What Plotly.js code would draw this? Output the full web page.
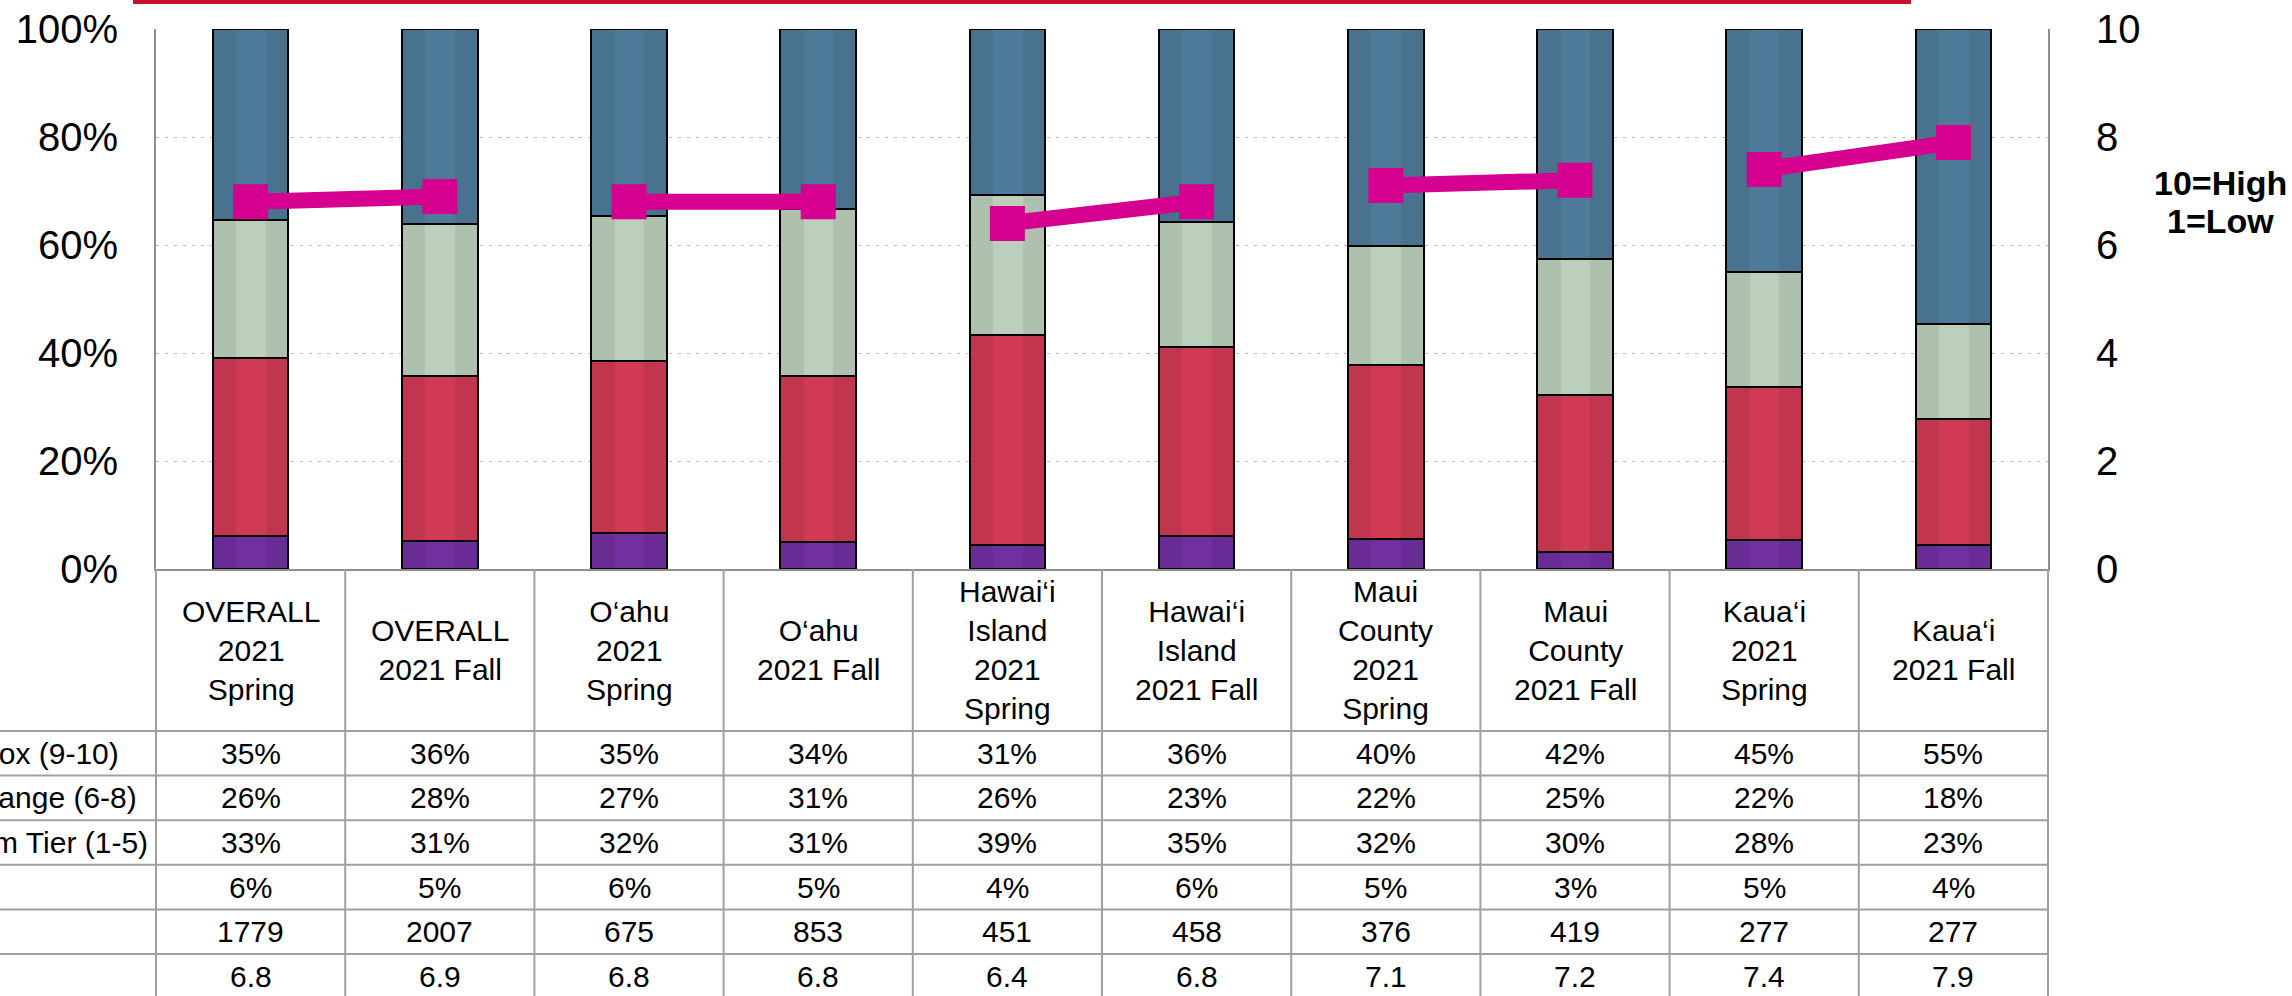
<!DOCTYPE html>
<html>
<head>
<meta charset="utf-8">
<script src="https://cdn.plot.ly/plotly-3.0.1.min.js"></script>
<style>
  html, body { margin: 0; padding: 0; background: #ffffff; overflow: hidden; }
  #chart { width: 2292px; height: 996px; }
</style>
</head>
<body>
<div id="chart"></div>
<script>
// ---------------- DATA ----------------
const categories = [
  "OVERALL 2021 Spring", "OVERALL 2021 Fall",
  "O‘ahu 2021 Spring", "O‘ahu 2021 Fall",
  "Hawai‘i Island 2021 Spring", "Hawai‘i Island 2021 Fall",
  "Maui County 2021 Spring", "Maui County 2021 Fall",
  "Kaua‘i 2021 Spring", "Kaua‘i 2021 Fall"
];
const categoryLabels = [
  "OVERALL<br>2021<br>Spring", "OVERALL<br>2021 Fall",
  "O‘ahu<br>2021<br>Spring", "O‘ahu<br>2021 Fall",
  "Hawai‘i<br>Island<br>2021<br>Spring", "Hawai‘i<br>Island<br>2021 Fall",
  "Maui<br>County<br>2021<br>Spring", "Maui<br>County<br>2021 Fall",
  "Kaua‘i<br>2021<br>Spring", "Kaua‘i<br>2021 Fall"
];
// table values (as printed)
const topBox     = [35, 36, 35, 34, 31, 36, 40, 42, 45, 55];
const midRange   = [26, 28, 27, 31, 26, 23, 22, 25, 22, 18];
const bottomTier = [33, 31, 32, 31, 39, 35, 32, 30, 28, 23];
const dontKnow   = [6, 5, 6, 5, 4, 6, 5, 3, 5, 4];
const nCounts    = [1779, 2007, 675, 853, 451, 458, 376, 419, 277, 277];
const means      = [6.8, 6.9, 6.8, 6.8, 6.4, 6.8, 7.1, 7.2, 7.4, 7.9];
// bar segments (unrounded)
const barDontKnow = [6.2, 5.1, 6.6, 5.0, 4.5, 6.2, 5.6, 3.1, 5.4, 4.5];
const barBottom   = [32.9, 30.7, 32.0, 30.8, 38.9, 35.0, 32.1, 29.2, 28.3, 23.3];
const barMid      = [25.6, 28.1, 26.7, 30.8, 25.9, 23.0, 22.1, 25.1, 21.3, 17.5];
const barTop      = [35.3, 36.1, 34.7, 33.4, 30.7, 35.8, 40.2, 42.6, 45.0, 54.7];
const rowLabels  = ["Top Box (9-10)", "Mid Range (6-8)", "Bottom Tier (1-5)"];
const leftTicks  = [0, 20, 40, 60, 80, 100];
const rightTicks = [0, 2, 4, 6, 8, 10];
const scaleNote  = ["10=High", "1=Low"];

// ---------------- STYLE / LAYOUT GEOMETRY ----------------
const W = 2292, H = 996;
const plotL = 156, plotR = 2048, plotT = 29, plotB = 569;
const plotW = plotR - plotL, plotH = plotB - plotT;
const px2x = px => (px - plotL) / plotW;
const py2y = py => (plotB - py) / plotH;

const C_BLUE = '#4e7b99', C_GREEN = '#bccfbc', C_RED = '#d13a55', C_PURPLE = '#7030a0';
const C_PINK = '#d5008f', C_GRID = '#bdbdbd', C_AXIS = '#8f8f8f', C_TABLE = '#a0a0a0';
const FONT = 'Liberation Sans, Arial, sans-serif';
const barW = 0.4;

function stackTrace(name, vals, color) {
  return {
    type: 'bar', name: name, x: categories, y: vals,
    width: barW, xaxis: 'x', yaxis: 'y',
    marker: { color: color, line: { color: '#000000', width: 2 } },
    hoverinfo: 'skip'
  };
}

const totals = categories.map((c, i) => barDontKnow[i] + barBottom[i] + barMid[i] + barTop[i]);

const traces = [
  stackTrace('Don\'t know', barDontKnow, C_PURPLE),
  stackTrace(rowLabels[2], barBottom, C_RED),
  stackTrace(rowLabels[1], barMid, C_GREEN),
  stackTrace(rowLabels[0], barTop, C_BLUE),
  // subtle shading bands on the bars
  {
    type: 'bar', x: categories, y: totals, xaxis: 'x2', yaxis: 'y',
    offset: -barW / 2 + 0.004, width: barW * 0.3,
    marker: { color: 'rgba(0,0,0,0.07)', line: { width: 0 } }, hoverinfo: 'skip'
  },
  {
    type: 'bar', x: categories, y: totals, xaxis: 'x3', yaxis: 'y',
    offset: barW * 0.2, width: barW * 0.29,
    marker: { color: 'rgba(0,0,0,0.07)', line: { width: 0 } }, hoverinfo: 'skip'
  }
];

for (let r = 0; r < categories.length / 2; r++) {
  traces.push({
    type: 'scatter', mode: 'lines+markers',
    x: [categories[2 * r], categories[2 * r + 1]],
    y: [means[2 * r], means[2 * r + 1]],
    xaxis: 'x4', yaxis: 'y2',
    line: { color: C_PINK, width: 16 },
    marker: { symbol: 'square', size: 35, color: C_PINK, line: { width: 0 } },
    hoverinfo: 'skip'
  });
}

// ---------------- TABLE ----------------
const shapes = [];
const annotations = [];
const catRowBottom = 731;
const rowH = 44.6;
const nRows = 6;
const nCols = categories.length;

// red line at top
shapes.push({ type: 'line', xref: 'paper', yref: 'paper',
  x0: px2x(133), x1: px2x(1911), y0: py2y(2), y1: py2y(2),
  line: { color: '#c8102e', width: 4 } });

// vertical column lines
for (let i = 0; i <= nCols; i++) {
  shapes.push({ type: 'line', xref: 'paper', yref: 'paper',
    x0: i / nCols, x1: i / nCols, y0: 0, y1: py2y(H + 5),
    line: { color: C_TABLE, width: 2 } });
}
// horizontal row lines
for (let r = 0; r < nRows; r++) {
  const py = catRowBottom + r * rowH;
  shapes.push({ type: 'line', xref: 'paper', yref: 'paper',
    x0: px2x(-5), x1: 1, y0: py2y(py), y1: py2y(py),
    line: { color: C_TABLE, width: 2 } });
}

// category labels
categories.forEach((c, i) => {
  annotations.push({ xref: 'paper', yref: 'paper', x: (i + 0.5) / nCols, y: py2y((plotB + catRowBottom) / 2),
    text: categoryLabels[i], showarrow: false, xanchor: 'center', yanchor: 'middle', align: 'center',
    font: { family: FONT, size: 30, color: '#000' } });
});

const rowTexts = [
  topBox.map(v => v + '%'),
  midRange.map(v => v + '%'),
  bottomTier.map(v => v + '%'),
  dontKnow.map(v => v + '%'),
  nCounts.map(v => String(v)),
  means.map(v => v.toFixed(1))
];
rowTexts.forEach((row, r) => {
  const cy = catRowBottom + (r + 0.5) * rowH;
  row.forEach((t, i) => {
    annotations.push({ xref: 'paper', yref: 'paper', x: (i + 0.5) / nCols, y: py2y(cy),
      text: t, showarrow: false, xanchor: 'center', yanchor: 'middle',
      font: { family: FONT, size: 30, color: '#000' } });
  });
});

// row labels (running off the left page edge, as in the original)
const rowLabelEnds = [121, 139, 150];
rowLabels.forEach((t, r) => {
  const cy = catRowBottom + (r + 0.5) * rowH;
  annotations.push({ xref: 'paper', yref: 'paper', x: px2x(rowLabelEnds[r]), y: py2y(cy),
    text: t, showarrow: false, xanchor: 'right', yanchor: 'middle',
    font: { family: FONT, size: 30, color: '#000' } });
});

// scale note
annotations.push({ xref: 'paper', yref: 'paper', x: px2x(2220), y: py2y(183),
  text: '<b>' + scaleNote[0] + '</b>', showarrow: false, xanchor: 'center', yanchor: 'middle',
  font: { family: FONT, size: 34, color: '#000' } });
annotations.push({ xref: 'paper', yref: 'paper', x: px2x(2220), y: py2y(221),
  text: '<b>' + scaleNote[1] + '</b>', showarrow: false, xanchor: 'center', yanchor: 'middle',
  font: { family: FONT, size: 34, color: '#000' } });

const hiddenX = { type: 'category', overlaying: 'x', range: [-0.5, nCols - 0.5], visible: false, fixedrange: true };

const layout = {
  width: W, height: H,
  margin: { l: plotL, r: W - plotR, t: plotT, b: H - plotB, pad: 0 },
  paper_bgcolor: '#ffffff', plot_bgcolor: '#ffffff',
  showlegend: false,
  barmode: 'stack',
  xaxis: {
    type: 'category', range: [-0.5, nCols - 0.5], showticklabels: false, ticks: '',
    showgrid: false, zeroline: false, showline: true, linecolor: C_AXIS, linewidth: 2, fixedrange: true
  },
  xaxis2: Object.assign({}, hiddenX),
  xaxis3: Object.assign({}, hiddenX),
  xaxis4: Object.assign({}, hiddenX),
  yaxis: {
    range: [0, 100], tickvals: leftTicks, ticktext: leftTicks.map(v => v + '%'),
    ticks: '', ticklabelstandoff: 28,
    tickfont: { family: FONT, size: 40, color: '#000' },
    showgrid: true, gridcolor: C_GRID, gridwidth: 1, griddash: '3px,6px',
    zeroline: false, showline: true, linecolor: C_AXIS, linewidth: 2, fixedrange: true
  },
  yaxis2: {
    overlaying: 'y', side: 'right', anchor: 'x',
    range: [0, 10], tickvals: rightTicks, ticks: '', ticklabelstandoff: 38,
    tickfont: { family: FONT, size: 40, color: '#000' },
    showgrid: false, zeroline: false, showline: true, linecolor: C_AXIS, linewidth: 2, fixedrange: true
  },
  shapes: shapes,
  annotations: annotations
};

Plotly.newPlot('chart', traces, layout, { staticPlot: true, displayModeBar: false });
</script>
</body>
</html>
